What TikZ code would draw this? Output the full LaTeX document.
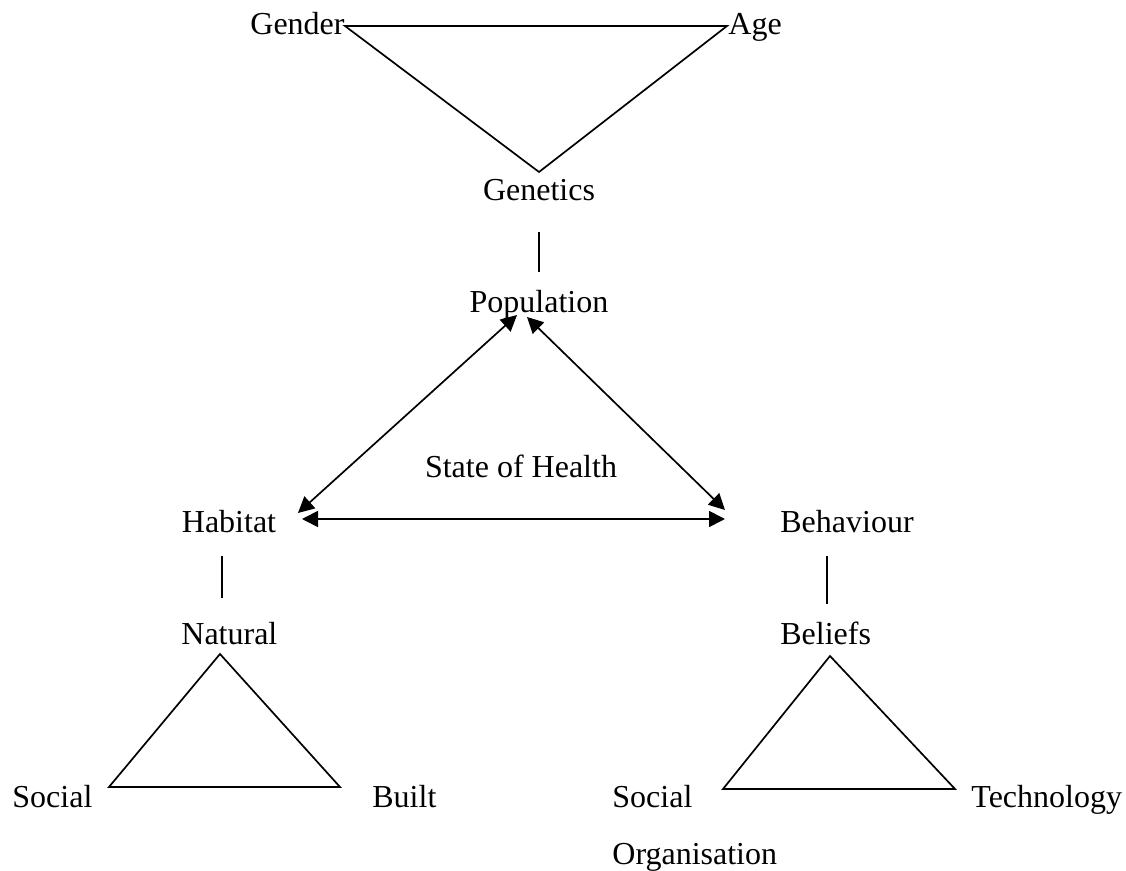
\documentclass[tikz,border=0pt]{standalone}
\usepackage{fontspec}
\setmainfont{Liberation Serif}
\usetikzlibrary{arrows.meta}
\begin{document}
\begin{tikzpicture}[x=0.5pt,y=-0.5pt,
  lbl/.style={inner sep=0pt,font=\fontsize{16}{19}\selectfont},
  ln/.style={line width=0.85pt,line join=miter},
  dbl/.style={line width=0.85pt,{Triangle[length=8pt,width=8pt]}-{Triangle[length=8pt,width=8pt]}}]
\useasboundingbox (0,0) rectangle (1126,871);
% labels
\node[lbl,anchor=base east] (gender) at (345,35) {Gender};
\node[lbl,anchor=base west] (age) at (728,35) {Age};
\node[lbl,anchor=base] (genetics) at (539,201) {Genetics};
\node[lbl,anchor=base] (population) at (539,313) {Population};
\node[lbl,anchor=base] (health) at (521,478) {State of Health};
\node[lbl,anchor=base] (habitat) at (229,533) {Habitat};
\node[lbl,anchor=base west] (behaviour) at (780,533) {Behaviour};
\node[lbl,anchor=base west] (natural) at (181,645) {Natural};
\node[lbl,anchor=base west] (beliefs) at (780,645) {Beliefs};
\node[lbl,anchor=base west] (social1) at (12,808) {Social};
\node[lbl,anchor=base west] (built) at (372,808) {Built};
\node[lbl,anchor=base west] (social2) at (612,808) {Social};
\node[lbl,anchor=base west] (technology) at (971,808) {Technology};
\node[lbl,anchor=base west] (organisation) at (612,864) {Organisation};
% vertices / connector ends
\coordinate (tA) at (345,26);
\coordinate (tB) at (727,26);
\coordinate (tC) at (539,172);
\coordinate (g1) at (539,232);
\coordinate (g2) at (539,272);
\coordinate (pL) at (517,315);
\coordinate (pR) at (527,317);
\coordinate (hU) at (298,513);
\coordinate (bU) at (725,510);
\coordinate (hR) at (302,519);
\coordinate (bL) at (725,519);
\coordinate (h1) at (222,556);
\coordinate (h2) at (222,598);
\coordinate (b1) at (827,556);
\coordinate (b2) at (827,604);
\coordinate (lA) at (220,654);
\coordinate (lB) at (109,787);
\coordinate (lC) at (340,787);
\coordinate (rA) at (830,656);
\coordinate (rB) at (723,789);
\coordinate (rC) at (955,789);
% triangles
\draw[ln] (tA) -- (tB) -- (tC) -- cycle;
\draw[ln] (lA) -- (lB) -- (lC) -- cycle;
\draw[ln] (rA) -- (rB) -- (rC) -- cycle;
% vertical links
\draw[ln] (g1) -- (g2);
\draw[ln] (h1) -- (h2);
\draw[ln] (b1) -- (b2);
% arrows
\draw[dbl] (pL) -- (hU);
\draw[dbl] (pR) -- (bU);
\draw[dbl] (hR) -- (bL);
\end{tikzpicture}
\end{document}
